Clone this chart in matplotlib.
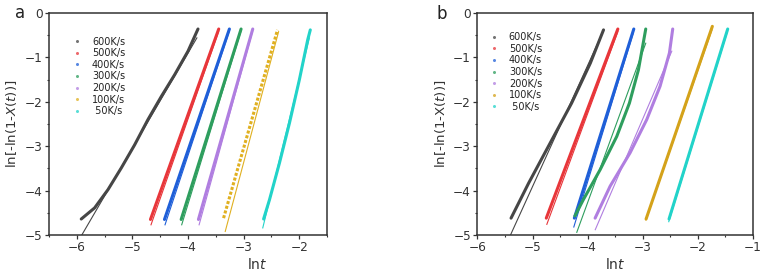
import matplotlib
matplotlib.use("Agg")
import matplotlib.pyplot as plt
from matplotlib.ticker import MultipleLocator
from matplotlib.lines import Line2D

plt.rcParams['font.family'] = ['DejaVu Sans']
plt.rcParams['mathtext.fontset'] = 'dejavusans'

rates = ["600K/s", "500K/s", "400K/s", "300K/s", "200K/s", "100K/s", " 50K/s"]
colors_a = ["#464646", "#e8363a", "#1f5fd8", "#2e9e5e", "#b07ee0", "#e0b020", "#22d3c9"]
colors_b = ["#464646", "#e8363a", "#1f5fd8", "#2e9e5e", "#b07ee0", "#d4a21a", "#22d3c9"]

# ---- panel a: measured data (ln t, ln[-ln(1-X)]) ----
a_data_x = [
    [-5.92, -5.68, -5.44, -5.20, -4.96, -4.72, -4.48, -4.24, -4.00, -3.82],
    [-4.675, -3.447],
    [-4.423, -3.255],
    [-4.123, -3.045],
    [-3.812, -2.835],
    [-3.36, -2.39],
    [-2.64, -2.535, -2.355, -2.175, -1.996, -1.846, -1.80],
]
a_data_y = [
    [-4.64, -4.39, -3.98, -3.49, -2.97, -2.40, -1.88, -1.39, -0.86, -0.36],
    [-4.65, -0.36],
    [-4.65, -0.36],
    [-4.65, -0.36],
    [-4.65, -0.36],
    [-4.62, -0.38],
    [-4.64, -4.21, -3.38, -2.48, -1.50, -0.60, -0.38],
]
# panel a: linear fits
a_fit_x = [[-5.91, -3.84], [-4.665, -3.45], [-4.413, -3.26], [-4.113, -3.05],
           [-3.80, -2.84], [-3.33, -2.37], [-2.655, -1.816]]
a_fit_y = [[-5.0, -0.56], [-4.77, -0.42], [-4.77, -0.42], [-4.77, -0.42],
           [-4.77, -0.42], [-4.92, -0.42], [-4.84, -0.56]]

# ---- panel b: measured data ----
b_data_x = [
    [-5.39, -5.07, -4.68, -4.29, -3.95, -3.71],
    [-4.75, -3.45],
    [-4.24, -3.83, -3.16],
    [-4.23, -4.075, -3.772, -3.47, -3.24, -3.076, -2.943],
    [-3.863, -3.59, -3.228, -2.925, -2.683, -2.513, -2.453],
    [-2.937, -1.733],
    [-2.52, -1.454],
]
b_data_y = [
    [-4.62, -3.83, -2.93, -2.03, -1.13, -0.38],
    [-4.62, -0.36],
    [-4.62, -3.0, -0.36],
    [-4.57, -4.2, -3.53, -2.78, -2.03, -1.28, -0.36],
    [-4.62, -3.9, -3.15, -2.40, -1.65, -0.9, -0.36],
    [-4.64, -0.30],
    [-4.64, -0.36],
]
b_fit_x = [[-5.40, -3.73], [-4.74, -3.45], [-4.25, -3.17], [-4.196, -2.943],
           [-3.86, -2.47], [-2.94, -1.74], [-2.525, -1.46]]
b_fit_y = [[-5.0, -0.45], [-4.76, -0.42], [-4.82, -0.45], [-4.94, -0.68],
           [-4.88, -0.86], [-4.66, -0.38], [-4.70, -0.42]]

fig = plt.figure(figsize=(7.62, 2.77), dpi=100)
ax_a = fig.add_axes([0.0643, 0.1516, 0.3648, 0.8014])
ax_b = fig.add_axes([0.6266, 0.1516, 0.3612, 0.8014])


def style(ax, xlim, xticks, ylabel, xlab_x):
    ax.set_xlim(*xlim)
    ax.set_ylim(-5, 0)
    ax.set_xticks(xticks)
    ax.set_yticks([0, -1, -2, -3, -4, -5])
    ax.xaxis.set_minor_locator(MultipleLocator(0.5))
    ax.yaxis.set_minor_locator(MultipleLocator(0.5))
    ax.tick_params(which='major', direction='out', length=2.6, width=0.9,
                   labelsize=8.7, pad=2, colors='#333333')
    ax.tick_params(which='minor', direction='out', length=1.5, width=0.8,
                   colors='#333333')
    for s in ax.spines.values():
        s.set_linewidth(1.1)
        s.set_color('#333333')
    ax.set_ylabel(ylabel, fontsize=9.5, color='#333333')
    ax.yaxis.set_label_coords(-0.108, 0.5)
    ax.set_xlabel(r'ln$\it{t}$', fontsize=10, color='#333333')
    ax.xaxis.set_label_coords(xlab_x, -0.1)


# panel a
for i in range(len(rates)):
    ls = (0, (1.0, 0.6)) if i == 5 else '-'
    ax_a.plot(a_data_x[i], a_data_y[i], color=colors_a[i], lw=2.2, ls=ls,
              solid_capstyle='round')
    ax_a.plot(a_fit_x[i], a_fit_y[i], color=colors_a[i], lw=0.8)
style(ax_a, (-6.5, -1.5), [-6, -5, -4, -3, -2],
      r'ln[-ln(1-$\it{X}$($\it{t}$))]', 0.75)

# panel b
for i in range(len(rates)):
    ax_b.plot(b_data_x[i], b_data_y[i], color=colors_b[i], lw=2.2,
              solid_capstyle='round')
    ax_b.plot(b_fit_x[i], b_fit_y[i], color=colors_b[i], lw=0.8)
style(ax_b, (-6, -1), [-6, -5, -4, -3, -2, -1],
      r'ln[-ln(1-X($\it{t}$))]', 0.5)

# legends
for ax, cols, anchor in [(ax_a, colors_a, (0.083, 0.893)),
                         (ax_b, colors_b, (0.042, 0.913))]:
    handles = [Line2D([], [], ls='none', marker='o', ms=2.2, color=c,
                      alpha=0.75, markeredgewidth=0) for c in cols]
    ax.legend(handles, rates, loc='upper left', bbox_to_anchor=anchor,
              frameon=False, fontsize=7, handlelength=1.0,
              handletextpad=1.04, labelspacing=0.16, borderaxespad=0,
              borderpad=0, labelcolor='#222222')

fig.text(0.026, 0.953, 'a', fontsize=12, ha='center', va='center', color='#222222')
fig.text(0.58, 0.95, 'b', fontsize=12, ha='center', va='center', color='#222222')

fig.savefig('out.png', dpi=100)
